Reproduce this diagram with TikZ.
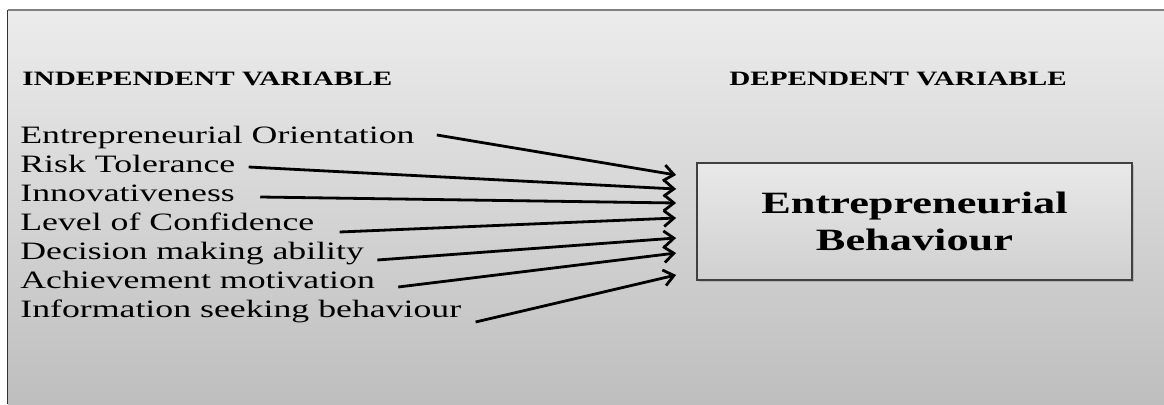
\documentclass[tikz,border=0pt]{standalone}
\usepackage{fontspec}
\setmainfont{Liberation Serif}[FakeStretch=1.43]
\usetikzlibrary{arrows.meta,shadows}
\definecolor{bgtop}{HTML}{ECECEC}
\definecolor{bgbottom}{HTML}{BEBEBE}
\definecolor{boxtop}{HTML}{E9E9E9}
\definecolor{boxbottom}{HTML}{D0D0D0}
\tikzset{
  heading/.style={anchor=base, inner sep=0pt, font=\fontsize{10.2}{12}\selectfont\bfseries},
  listitem/.style={anchor=base west, inner sep=0pt, font=\fontsize{12.5}{14.5}\selectfont},
  resultbox/.style={draw=black!75, line width=0.9pt, top color=boxtop, bottom color=boxbottom,
    minimum width=217.5pt, minimum height=58.5pt, align=center,
    font=\fontsize{15.5}{18.5}\selectfont\bfseries,
    drop shadow={opacity=0.35, shadow xshift=0.8pt, shadow yshift=-0.8pt}},
  link/.style={line width=1.4pt, -{Straight Barb[length=5pt,width=8pt]}}
}
\begin{document}
\begin{tikzpicture}[x=0.5pt,y=0.5pt]
  \useasboundingbox (0,0) rectangle (1164,404);
  \fill[white] (0,0) rectangle (1164,404);
  % background panel
  \shade[top color=bgtop, bottom color=bgbottom] (7.5,0) rectangle (1164,394);
  \draw[black!80, line width=0.8pt] (7.5,0) -- (7.5,394);
  \draw[black!50, line width=0.8pt] (7.5,394) -- (1164,394);

  \node[heading, anchor=base west] (indep) at (22,319) {INDEPENDENT VARIABLE};
  \node[heading] (dep) at (898,319) {DEPENDENT VARIABLE};

  \node[listitem] (eo) at (20,261) {Entrepreneurial Orientation};
  \node[listitem] (rt) at (20,232) {Risk Tolerance};
  \node[listitem] (inn) at (20,203) {Innovativeness};
  \node[listitem] (lc) at (20,174) {Level of Confidence};
  \node[listitem] (dm) at (20,145) {Decision making ability};
  \node[listitem] (am) at (20,116) {Achievement motivation};
  \node[listitem] (isb) at (20,87) {Information seeking behaviour};

  \node[resultbox] (eb) at (914.5,182.5) {Entrepreneurial\\Behaviour};

  % arrow tips in front of the box
  \coordinate (t1) at ([xshift=-10pt,yshift=23.25pt]eb.west);
  \coordinate (t2) at ([xshift=-10pt,yshift=16.25pt]eb.west);
  \coordinate (t3) at ([xshift=-10pt,yshift=9.25pt]eb.west);
  \coordinate (t4) at ([xshift=-10pt,yshift=1.75pt]eb.west);
  \coordinate (t5) at ([xshift=-10pt,yshift=-8.25pt]eb.west);
  \coordinate (t6) at ([xshift=-10pt,yshift=-15.75pt]eb.west);
  \coordinate (t7) at ([xshift=-10pt,yshift=-26.75pt]eb.west);

  \draw[link] ([xshift=11pt,yshift=4pt]eo.base east) -- (t1);
  \draw[link] ([xshift=6.5pt,yshift=2.5pt]rt.base east) -- (t2);
  \draw[link] ([xshift=12.5pt,yshift=2pt]inn.base east) -- (t3);
  \draw[link] ([xshift=12.5pt,yshift=-1pt]lc.base east) -- (t4);
  \draw[link] ([xshift=6.5pt,yshift=-0.5pt]dm.base east) -- (t5);
  \draw[link] ([xshift=11.5pt,yshift=0.5pt]am.base east) -- (t6);
  \draw[link] ([xshift=7pt,yshift=-2.5pt]isb.base east) -- (t7);
\end{tikzpicture}
\end{document}
